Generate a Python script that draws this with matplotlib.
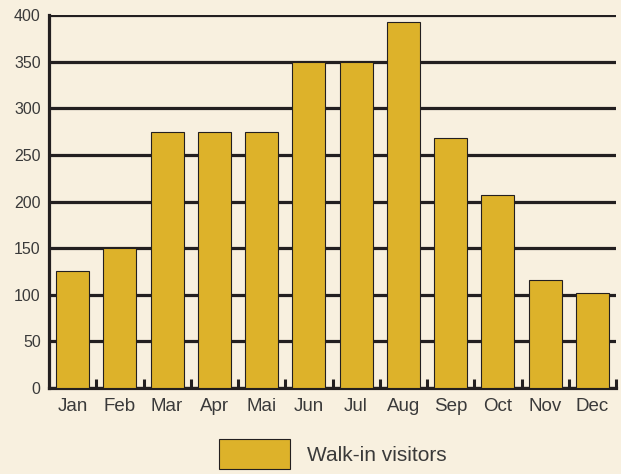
import matplotlib
matplotlib.use("Agg")
import matplotlib.pyplot as plt
import numpy as np
from matplotlib import font_manager

months = ["Jan", "Feb", "Mar", "Apr", "Mai", "Jun", "Jul", "Aug", "Sep", "Oct", "Nov", "Dec"]
visitors = [125, 150, 275, 275, 275, 350, 350, 393, 268, 207, 116, 102]
yticks = [0, 50, 100, 150, 200, 250, 300, 350, 400]
series_label = "Walk-in visitors"

names = {f.name for f in font_manager.fontManager.ttflist}
main_font = "Liberation Sans" if "Liberation Sans" in names else "DejaVu Sans"
narrow_font = "Liberation Sans Narrow" if "Liberation Sans Narrow" in names else main_font

bg = "#F8F0DF"
bar_color = "#DDB22A"
dark = "#231F20"
text_color = "#3A3A3A"

fig = plt.figure(figsize=(6.21, 4.74), dpi=100, facecolor=bg)
ax = fig.add_axes([49/621, 1-388/474, (616-49)/621, (388-15)/474])
ax.set_facecolor(bg)

x = np.arange(len(months))
ax.set_axisbelow(True)
ax.yaxis.grid(True, color=dark, linewidth=2.3)
ax.bar(x, visitors, width=0.7, color=bar_color, edgecolor=dark, linewidth=0.8,
       label=series_label, zorder=3)

ax.set_xlim(-0.5, len(months) - 0.5)
ax.set_ylim(0, 400)
ax.set_yticks(yticks)
ax.set_yticklabels([str(v) for v in yticks], fontfamily=narrow_font, fontsize=11.5, color=text_color)
ax.set_xticks(x)
ax.set_xticklabels(months, fontfamily=main_font, fontsize=13.5, color=text_color)
ax.tick_params(axis="x", which="major", length=0, pad=7)
ax.tick_params(axis="y", which="major", length=0, pad=6)
ax.set_xticks(np.arange(0.5, len(months), 1.0), minor=True)
ax.tick_params(axis="x", which="minor", direction="in", length=6.5, width=2.2, color=dark)

for s in ["top", "right"]:
    ax.spines[s].set_visible(False)
ax.spines["left"].set_linewidth(2.3)
ax.spines["left"].set_color(dark)
ax.spines["bottom"].set_linewidth(2.3)
ax.spines["bottom"].set_color(dark)

fs = 15
px = fs * 100 / 72
hh = (30 / px - 0.245) / 0.65
leg = fig.legend(loc="center left", bbox_to_anchor=(219/621, 1-454/474),
                 frameon=False, prop={"family": main_font, "size": fs},
                 handlelength=71/px, handleheight=hh, handletextpad=17/px,
                 borderpad=0, borderaxespad=0)
for t in leg.get_texts():
    t.set_color(text_color)

fig.savefig("out.png", dpi=100, facecolor=bg)
